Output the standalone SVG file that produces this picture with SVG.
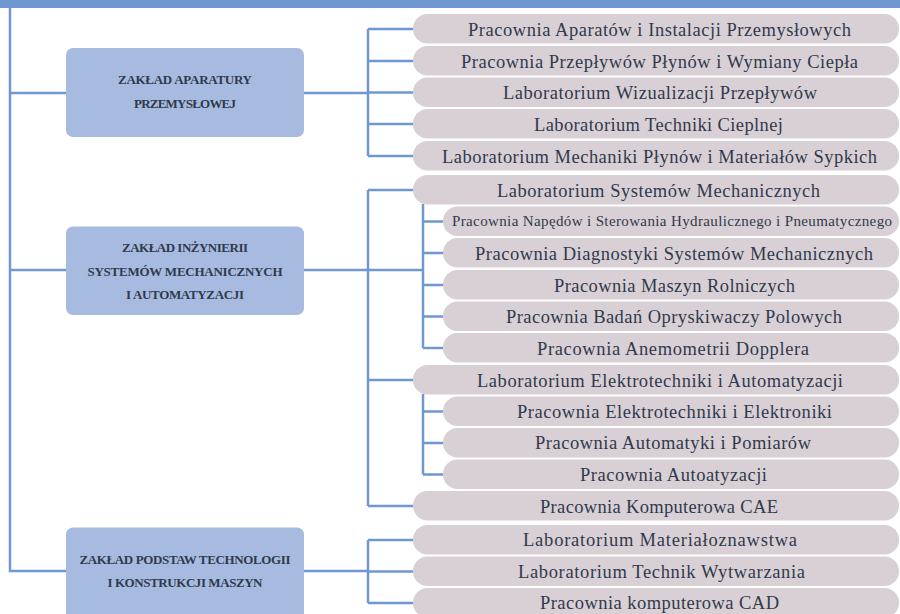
<svg xmlns="http://www.w3.org/2000/svg" width="900" height="614" viewBox="0 0 900 614">
<style>
.bg{fill:#ffffff}
.band{fill:#6F98D0}
.ln{fill:none;stroke:#6F98D0;stroke-width:2.5}
.dept{fill:#A7BBE1}
.pill{fill:#D9D0D5}
.dt{font-family:"Liberation Serif","DejaVu Serif",serif;font-weight:bold;font-size:13px;fill:#2F3A4D;text-anchor:middle}
.pt{font-family:"Liberation Serif","DejaVu Serif",serif;font-size:18.5px;fill:#2F3A4D;text-anchor:middle}
.ps{font-family:"Liberation Serif","DejaVu Serif",serif;font-size:15px;fill:#2F3A4D;text-anchor:middle}
</style>
<rect class="bg" x="0" y="0" width="900" height="614"/>
<rect class="band" x="0" y="0" width="900" height="8"/>
<g id="connectors">
<path class="ln" d="M10 8 V571 H66 M10 93 H66 M10 270 H66"/>
<path class="ln" d="M304 93 H368 M368 29 V156 M368 29 H413 M368 61 H413 M368 92.5 H413 M368 124 H413 M368 156 H413"/>
<path class="ln" d="M304 270 H423 M368 190 V506 M368 190 H413 M368 380 H413 M368 506 H413"/>
<path class="ln" d="M423 204 V348 M423 221.5 H443 M423 253 H443 M423 285 H443 M423 316.5 H443 M423 348 H443"/>
<path class="ln" d="M423 394 V474.5 M423 411.5 H443 M423 443 H443 M423 474.5 H443"/>
<path class="ln" d="M304 571 H368 M368 540 V603 M368 540 H413 M368 571.5 H413 M368 603 H413"/>
</g>
<g id="dept1"><rect class="dept" x="66" y="48" width="238" height="89" rx="7"/><text class="dt" x="185" y="84" textLength="134">ZAKŁAD APARATURY</text><text class="dt" x="185" y="108" textLength="102">PRZEMYSŁOWEJ</text></g>
<g id="dept2"><rect class="dept" x="66" y="226.5" width="238" height="88.5" rx="7"/><text class="dt" x="185" y="252" textLength="126">ZAKŁAD INŻYNIERII</text><text class="dt" x="185" y="275.5" textLength="195">SYSTEMÓW MECHANICZNYCH</text><text class="dt" x="185" y="299" textLength="118">I AUTOMATYZACJI</text></g>
<g id="dept3"><rect class="dept" x="66" y="527.5" width="238" height="100" rx="7"/><text class="dt" x="185" y="564" textLength="211">ZAKŁAD PODSTAW TECHNOLOGII</text><text class="dt" x="185" y="587" textLength="155">I KONSTRUKCJI MASZYN</text></g>
<g id="lab1"><rect class="pill" x="413" y="14" width="486" height="29.5" rx="14.5"/><text class="pt" x="659.5" y="36" textLength="383">Pracownia Aparatów i Instalacji Przemysłowych</text></g>
<g id="lab2"><rect class="pill" x="413" y="46" width="486" height="29.5" rx="14.5"/><text class="pt" x="659.5" y="67.5" textLength="397">Pracownia Przepływów Płynów i Wymiany Ciepła</text></g>
<g id="lab3"><rect class="pill" x="413" y="77.5" width="486" height="29.5" rx="14.5"/><text class="pt" x="660" y="99" textLength="314">Laboratorium Wizualizacji Przepływów</text></g>
<g id="lab4"><rect class="pill" x="413" y="109" width="486" height="29.5" rx="14.5"/><text class="pt" x="658.5" y="130.5" textLength="249">Laboratorium Techniki Cieplnej</text></g>
<g id="lab5"><rect class="pill" x="413" y="141" width="486" height="29.5" rx="14.5"/><text class="pt" x="659.5" y="162.5" textLength="435">Laboratorium Mechaniki Płynów i Materiałów Sypkich</text></g>
<g id="lab6"><rect class="pill" x="413" y="175" width="486" height="29.5" rx="14.5"/><text class="pt" x="658.5" y="196.5" textLength="323">Laboratorium Systemów Mechanicznych</text></g>
<g id="lab7"><rect class="pill" x="443" y="206.5" width="456" height="29.5" rx="14.5"/><text class="ps" x="672" y="225.5" textLength="440">Pracownia Napędów i Sterowania Hydraulicznego i Pneumatycznego</text></g>
<g id="lab8"><rect class="pill" x="443" y="238" width="456" height="29.5" rx="14.5"/><text class="pt" x="674" y="259.5" textLength="398">Pracownia Diagnostyki Systemów Mechanicznych</text></g>
<g id="lab9"><rect class="pill" x="443" y="270" width="456" height="29.5" rx="14.5"/><text class="pt" x="674.5" y="291.5" textLength="241">Pracownia Maszyn Rolniczych</text></g>
<g id="lab10"><rect class="pill" x="443" y="301.5" width="456" height="29.5" rx="14.5"/><text class="pt" x="674" y="323" textLength="336">Pracownia Badań Opryskiwaczy Polowych</text></g>
<g id="lab11"><rect class="pill" x="443" y="333" width="456" height="29.5" rx="14.5"/><text class="pt" x="673" y="354.5" textLength="272">Pracownia Anemometrii Dopplera</text></g>
<g id="lab12"><rect class="pill" x="413" y="365" width="486" height="29.5" rx="14.5"/><text class="pt" x="660" y="386.5" textLength="366">Laboratorium Elektrotechniki i Automatyzacji</text></g>
<g id="lab13"><rect class="pill" x="443" y="396.5" width="456" height="29.5" rx="14.5"/><text class="pt" x="674.5" y="418" textLength="315">Pracownia Elektrotechniki i Elektroniki</text></g>
<g id="lab14"><rect class="pill" x="443" y="428" width="456" height="29.5" rx="14.5"/><text class="pt" x="673" y="449" textLength="276">Pracownia Automatyki i Pomiarów</text></g>
<g id="lab15"><rect class="pill" x="443" y="459.5" width="456" height="29.5" rx="14.5"/><text class="pt" x="673.5" y="481" textLength="187">Pracownia Autoatyzacji</text></g>
<g id="lab16"><rect class="pill" x="413" y="491" width="486" height="29.5" rx="14.5"/><text class="pt" x="659" y="512.5" textLength="238">Pracownia Komputerowa CAE</text></g>
<g id="lab17"><rect class="pill" x="413" y="525" width="486" height="29.5" rx="14.5"/><text class="pt" x="660" y="546" textLength="274">Laboratorium Materiałoznawstwa</text></g>
<g id="lab18"><rect class="pill" x="413" y="556.5" width="486" height="29.5" rx="14.5"/><text class="pt" x="661.5" y="577.5" textLength="287">Laboratorium Technik Wytwarzania</text></g>
<g id="lab19"><rect class="pill" x="413" y="588" width="486" height="29.5" rx="14.5"/><text class="pt" x="659.5" y="609" textLength="239">Pracownia komputerowa CAD</text></g>
</svg>
